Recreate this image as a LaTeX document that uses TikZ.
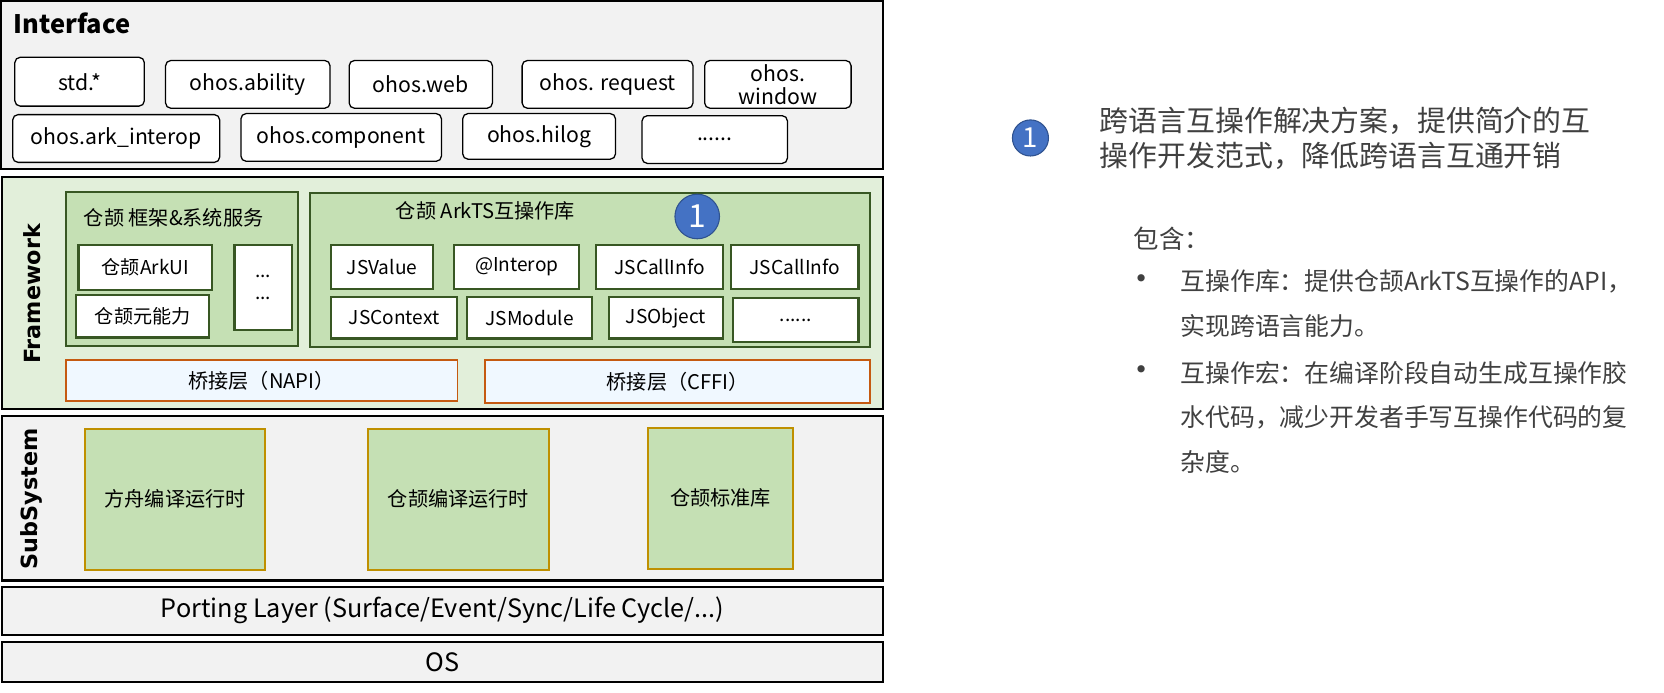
\documentclass[tikz,border=0pt]{standalone}
\usepackage{fontspec}
\setmainfont{Noto Sans CJK SC}
\newfontfamily\sidefont{DejaVu Sans}
\usetikzlibrary{positioning}

\definecolor{panel}{HTML}{F2F2F2}
\definecolor{fwgreen}{HTML}{E2EFDA}
\definecolor{libgreen}{HTML}{C5E0B4}
\definecolor{darkgreen}{HTML}{385723}
\definecolor{bridgefill}{HTML}{F0F8FF}
\definecolor{bridgeline}{HTML}{C55A11}
\definecolor{gold}{HTML}{BF9000}
\definecolor{numblue}{HTML}{4472C4}
\definecolor{numline}{HTML}{2F528F}
\definecolor{note}{HTML}{404040}

\tikzset{
  boxat/.style n args={4}{at={({(#1+#3)/2},{(#2+#4)/2})}, minimum width={(#3-#1)*0.5pt}, minimum height={(#4-#2)*0.5pt}},
  layer/.style={draw=black, line width=1pt, fill=panel, inner sep=0pt},
  api/.style={draw=black, line width=0.6pt, fill=white, rounded corners=2.5pt, inner sep=0pt, font=\fontsize{10}{11}\selectfont},
  grp/.style={draw=darkgreen, line width=1pt, fill=libgreen, inner sep=0pt},
  mod/.style={draw=darkgreen, line width=1pt, fill=white, inner sep=0pt, font=\fontsize{9}{10.5}\selectfont},
  bridge/.style={draw=bridgeline, line width=0.8pt, fill=bridgefill, inner sep=0pt, font=\fontsize{9.5}{11}\selectfont},
  sub/.style={draw=gold, line width=1pt, fill=libgreen, inner sep=0pt, font=\fontsize{9.5}{11}\selectfont},
  num/.style={circle, draw=numline, line width=0.5pt, fill=numblue, text=white, inner sep=0pt},
  side/.style={rotate=90, font=\sidefont\bfseries\fontsize{10.5}{12}\selectfont},
  grptitle/.style={anchor=west, font=\fontsize{9.5}{11}\selectfont},
  notetext/.style={anchor=west, align=left, inner sep=0pt, text=note, font=\fontsize{11.7}{21}\selectfont}
}

\begin{document}
\begin{tikzpicture}[x=0.5pt, y=-0.5pt]
    \useasboundingbox (0,0) rectangle (1568,653);
    % Interface
    \node[layer, boxat={1}{1}{832}{159}] (iface) {};
    \node[anchor=west, font=\bfseries\fontsize{12}{14}\selectfont] (ifacetitle) at (6,22) {Interface};
    \node[api, boxat={14}{54}{136}{100}] (std) {std.*};
    \node[api, boxat={156}{57}{311}{102}] (ability) {ohos.ability};
    \node[api, boxat={329}{57}{464}{102}] (web) {ohos.web};
    \node[api, boxat={492}{57}{653}{102}] (request) {ohos. request};
    \node[api, boxat={664}{57}{802}{102}, align=center] (window) {ohos.\\window};
    \node[api, boxat={12}{108}{207}{153}] (arkinterop) {ohos.ark\_interop};
    \node[api, boxat={227}{107}{416}{152}] (component) {ohos.component};
    \node[api, boxat={436}{107}{580}{150}] (hilog) {ohos.hilog};
    \node[api, boxat={605}{109}{742}{154}] (apimore) {......};
    % Framework
    \node[layer, fill=fwgreen, boxat={2}{167}{832}{385}] (fw) {};
    \node[side] (fwtitle) at (30,277) {Framework};
    \node[grp, boxat={62}{181}{281}{326}] (cjsys) {};
    \node[grptitle] (cjsystitle) at (72,205) {仓颉 框架\&系统服务};
    \node[mod, boxat={74}{231}{200}{273}] (arkui) {仓颉ArkUI};
    \node[mod, boxat={72}{278}{197}{318}] (meta) {仓颉元能力};
    \node[mod, boxat={221}{231}{275}{311}, align=center] (sysmore) {...\\...};
    \node[grp, boxat={292}{182}{820}{327}] (interop) {};
    \node[grptitle] (interoptitle) at (366,199) {仓颉 ArkTS互操作库};
    \node[num, minimum size=21pt, font=\fontsize{15}{15}\selectfont] (numA) at (657,204) {1};
    \node[mod, boxat={312}{231}{408}{272}] (jsvalue) {JSValue};
    \node[mod, boxat={428}{231}{546}{272}] (atinterop) {@Interop};
    \node[mod, boxat={562}{231}{681}{272}] (callinfoA) {JSCallInfo};
    \node[mod, boxat={689}{231}{809}{272}] (callinfoB) {JSCallInfo};
    \node[mod, boxat={312}{280}{431}{319}] (jscontext) {JSContext};
    \node[mod, boxat={440}{280}{558}{319}] (jsmodule) {JSModule};
    \node[mod, boxat={574}{280}{681}{319}] (jsobject) {JSObject};
    \node[mod, boxat={691}{281}{809}{322}] (jsmore) {......};
    \node[bridge, boxat={62}{339}{431}{378}] (napi) {桥接层（NAPI）};
    \node[bridge, boxat={457}{339}{820}{380}] (cffi) {桥接层（CFFI）};
    % SubSystem
    \node[layer, boxat={2}{392}{832}{547}] (subsys) {};
    \node[side] (subtitle) at (30,470) {SubSystem};
    \node[sub, boxat={80}{404}{250}{537}] (arkrt) {方舟编译运行时};
    \node[sub, boxat={347}{404}{517}{537}] (cjrt) {仓颉编译运行时};
    \node[sub, boxat={611}{403}{747}{536}] (cjstd) {仓颉标准库};
    % Porting layer, OS
    \node[layer, boxat={2}{553}{832}{598}, font=\fontsize{11.9}{13}\selectfont] (porting) {Porting Layer (Surface/Event/Sync/Life Cycle/...)};
    \node[layer, boxat={2}{605}{832}{643}, font=\fontsize{11.9}{13}\selectfont] (os) {OS};
    % notes
    \node[num, minimum size=17pt, font=\fontsize{13}{13}\selectfont] (numB) at (971,130) {1};
    \node[notetext, font=\fontsize{13.6}{16.5}\selectfont] (summary) at (1036,130) {跨语言互操作解决方案，提供简介的互\\操作开发范式，降低跨语言互通开销};
    \node[notetext, font=\fontsize{12}{14}\selectfont] (contains) at (1068,225) {包含：};
    \node[notetext, font=\sidefont\fontsize{11.7}{21}\selectfont] (dotA) at (1068,265) {•};
    \node[notetext] (itemA) at (1112,286) {互操作库：提供仓颉ArkTS互操作的API，\\实现跨语言能力。};
    \node[notetext, font=\sidefont\fontsize{11.7}{21}\selectfont] (dotB) at (1068,351) {•};
    \node[notetext] (itemB) at (1112,393) {互操作宏：在编译阶段自动生成互操作胶\\水代码，减少开发者手写互操作代码的复\\杂度。};
\end{tikzpicture}
\end{document}
